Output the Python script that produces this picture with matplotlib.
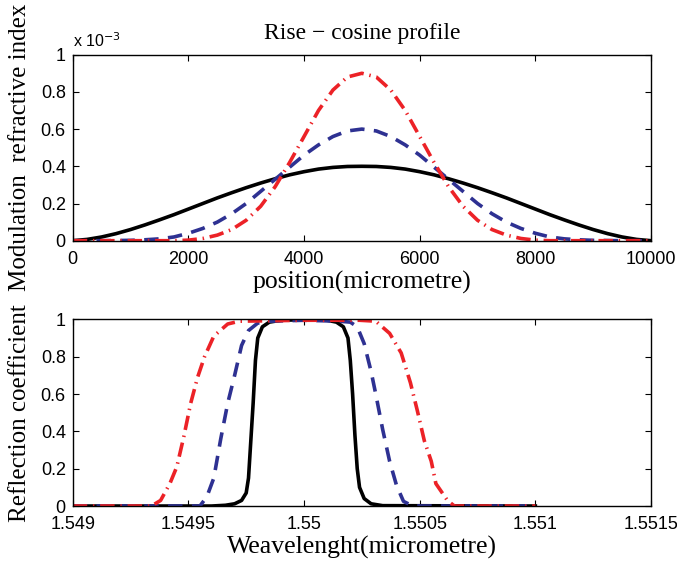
import matplotlib
matplotlib.use('Agg')
import matplotlib.pyplot as plt
from matplotlib.ticker import FixedLocator

# ---- 上图: 调制折射率 (x 1e-3) ----
position = [0, 250, 500, 750, 1000, 1250, 1500, 1750, 2000, 2250, 2500,
            2750, 3000, 3250, 3500, 3750, 4000, 4250, 4500, 4750, 5000,
            5250, 5500, 5750, 6000, 6250, 6500, 6750, 7000, 7250, 7500,
            7750, 8000, 8250, 8500, 8750, 9000, 9250, 9500, 9750, 10000]
mod_black = [0, 0.007, 0.02, 0.038, 0.06, 0.085, 0.112, 0.14, 0.17, 0.2, 0.23,
             0.258, 0.285, 0.31, 0.333, 0.354, 0.371, 0.385, 0.394, 0.399, 0.4,
             0.399, 0.394, 0.385, 0.371, 0.354, 0.333, 0.31, 0.285, 0.258, 0.23,
             0.2, 0.17, 0.14, 0.112, 0.085, 0.06, 0.038, 0.02, 0.007, 0]
mod_blue = [0, 0, 0, 0.001, 0.002, 0.005, 0.01, 0.02, 0.04, 0.066, 0.1,
            0.145, 0.2, 0.265, 0.33, 0.395, 0.46, 0.515, 0.56, 0.59, 0.6,
            0.59, 0.56, 0.515, 0.46, 0.395, 0.33, 0.265, 0.2, 0.145, 0.1,
            0.066, 0.04, 0.02, 0.01, 0.005, 0.002, 0.001, 0, 0, 0]
mod_red = [0, 0, 0, 0, 0, 0, 0, 0, 0.003, 0.012, 0.03,
           0.06, 0.11, 0.185, 0.29, 0.42, 0.56, 0.7, 0.81, 0.88, 0.9,
           0.88, 0.81, 0.7, 0.56, 0.42, 0.29, 0.185, 0.11, 0.06, 0.03,
           0.012, 0.003, 0, 0, 0, 0, 0, 0, 0, 0]

# ---- 下图: 反射系数 ----
wl_black = [1.5490, 1.5496, 1.54966, 1.5497, 1.54973, 1.54975, 1.54976, 1.54977,
            1.54978, 1.54979, 1.5498, 1.54982, 1.54985, 1.5499, 1.5500, 1.5501,
            1.55014, 1.55017, 1.55019, 1.5502, 1.55021, 1.55022, 1.55023, 1.55024,
            1.55026, 1.55029, 1.55034, 1.5510]
r_black = [0, 0, 0.004, 0.012, 0.03, 0.07, 0.15, 0.35,
           0.55, 0.78, 0.9, 0.96, 0.985, 0.995, 0.998, 0.995,
           0.985, 0.96, 0.9, 0.78, 0.6, 0.38, 0.2, 0.1,
           0.04, 0.012, 0.002, 0]
wl_blue = [1.5490, 1.54955, 1.54958, 1.54961, 1.54964, 1.54967, 1.5497, 1.54973,
           1.54976, 1.5498, 1.54985, 1.5500, 1.55015, 1.5502, 1.55023, 1.55026,
           1.55029, 1.55031, 1.55034, 1.55037, 1.5504, 1.55043, 1.55047, 1.5510]
r_blue = [0, 0, 0.05, 0.15, 0.36, 0.55, 0.7, 0.86,
          0.94, 0.98, 0.99, 0.995, 0.99, 0.985, 0.96, 0.87,
          0.72, 0.6, 0.41, 0.24, 0.11, 0.025, 0, 0]
wl_red = [1.5490, 1.54934, 1.54938, 1.54942, 1.54945, 1.54948, 1.54951, 1.54954,
          1.54957, 1.54961, 1.54967, 1.54972, 1.5500, 1.55024, 1.55031, 1.55037,
          1.55042, 1.55046, 1.55049, 1.55052, 1.55055, 1.55057, 1.55062, 1.55065,
          1.5510]
r_red = [0, 0, 0.03, 0.12, 0.21, 0.37, 0.55, 0.69,
         0.8, 0.91, 0.975, 0.99, 0.995, 0.995, 0.99, 0.925,
         0.82, 0.66, 0.51, 0.35, 0.24, 0.12, 0.03, 0,
         0]

top_xticks = [0, 2000, 4000, 6000, 8000, 10000]
top_yticks = [0, 0.2, 0.4, 0.6, 0.8, 1]
bot_xticks = [1.549, 1.5495, 1.55, 1.5505, 1.551, 1.5515]
bot_xlabels = ['1.549', '1.5495', '1.55', '1.5505', '1.551', '1.5515']
bot_yticks = [0, 0.2, 0.4, 0.6, 0.8, 1]

BLUE = '#2e3192'
RED = '#ec2227'
SERIF = 'Liberation Serif'
SANS = 'Liberation Sans'

plt.rcParams['font.family'] = SANS
plt.rcParams['xtick.direction'] = 'in'
plt.rcParams['ytick.direction'] = 'in'

fig = plt.figure(figsize=(6.77, 5.62), dpi=100)
ax1 = fig.add_axes([0.1074, 0.5717, 0.8542, 0.331])
ax2 = fig.add_axes([0.1074, 0.0996, 0.8542, 0.3322])


def style_axes(ax):
    for sp in ax.spines.values():
        sp.set_linewidth(1.0)
    ax.tick_params(top=True, right=True, length=4, width=0.8, labelsize=13)
    ax.tick_params(axis='x', pad=7.5)
    ax.tick_params(axis='y', pad=5)
    for lab in ax.get_xticklabels() + ax.get_yticklabels():
        lab.set_family(SANS)


# 上图
ax1.plot(position, mod_black, color='black', lw=2.6)
ax1.plot(position, mod_blue, color=BLUE, lw=2.6, linestyle=(0, (4, 2.6)))
ax1.plot(position, mod_red, color=RED, lw=2.6, linestyle=(0, (4, 1.6, 0.4, 1.6)))
ax1.set_xlim(0, 10000)
ax1.set_ylim(0, 1)
ax1.set_xticks(top_xticks)
ax1.set_xticklabels([str(t) for t in top_xticks])
ax1.set_yticks(top_yticks)
ax1.set_yticklabels(['0', '0.2', '0.4', '0.6', '0.8', '1'])
style_axes(ax1)
ax1.set_title('Rise \u2212 cosine profile', family=SERIF, fontsize=17, pad=11)
ax1.set_xlabel('position(micrometre)', family=SERIF, fontsize=18.5, labelpad=2)
ax1.set_ylabel('Modulation  refractive index', family=SERIF, fontsize=18,
               labelpad=7)
ax1.text(0.0, 1.025, r'x 10$^{-3}$', transform=ax1.transAxes, fontsize=11.5,
         family=SANS, ha='left', va='bottom')

# 下图
ax2.plot(wl_black, r_black, color='black', lw=2.6)
ax2.plot(wl_blue, r_blue, color=BLUE, lw=2.6, linestyle=(0, (4, 2.6)))
ax2.plot(wl_red, r_red, color=RED, lw=2.6, linestyle=(0, (4, 1.6, 0.4, 1.6)))
ax2.set_xlim(1.549, 1.5515)
ax2.set_ylim(0, 1)
ax2.xaxis.set_major_locator(FixedLocator(bot_xticks))
ax2.set_xticklabels(bot_xlabels)
ax2.set_yticks(bot_yticks)
ax2.set_yticklabels(['0', '0.2', '0.4', '0.6', '0.8', '1'])
style_axes(ax2)
ax2.set_xlabel('Weavelenght(micrometre)', family=SERIF, fontsize=18.5, labelpad=2)
ax2.set_ylabel('Reflection coefficient', family=SERIF, fontsize=18, labelpad=7)

fig.savefig('out.png', dpi=100)
